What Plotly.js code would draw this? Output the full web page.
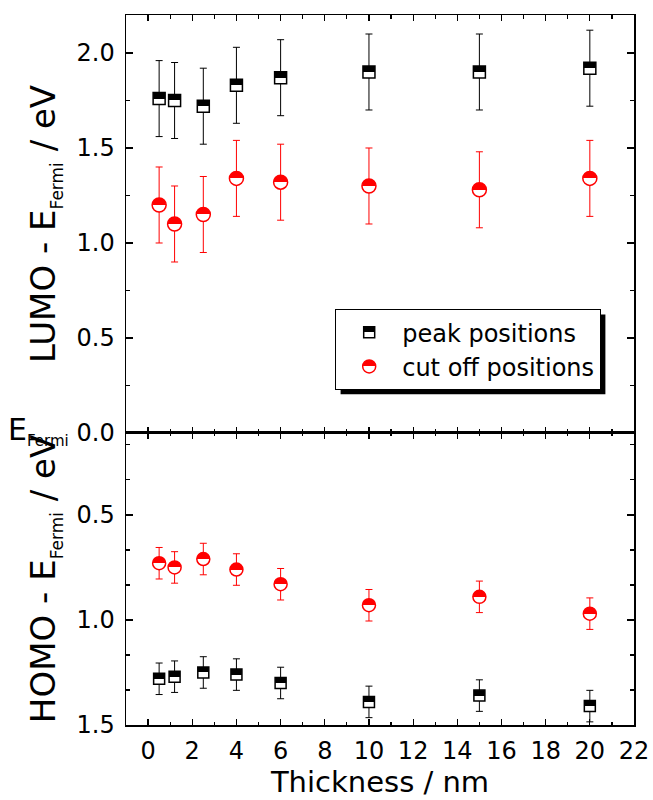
<!DOCTYPE html>
<html><head><meta charset="utf-8">
<script src="https://cdn.plot.ly/plotly-3.0.1.min.js"></script>
<style>body{margin:0;background:#fff}#chart{width:653px;height:800px}</style>
</head><body><div id="chart"></div>
<script>
// ---- data ----
var thickness = [0.5, 1.2, 2.5, 4, 6, 10, 15, 20];
var lumoPeak    = [1.76, 1.75, 1.72, 1.83, 1.87, 1.90, 1.90, 1.92];
var lumoPeakErr = [0.2, 0.2, 0.2, 0.2, 0.2, 0.2, 0.2, 0.2];
var lumoCut     = [1.20, 1.10, 1.15, 1.34, 1.32, 1.30, 1.28, 1.34];
var lumoCutErr  = [0.2, 0.2, 0.2, 0.2, 0.2, 0.2, 0.2, 0.2];
var homoCut     = [0.73, 0.75, 0.71, 0.76, 0.83, 0.93, 0.89, 0.97];
var homoCutErr  = [0.075, 0.075, 0.075, 0.075, 0.075, 0.075, 0.075, 0.075];
var homoPeak    = [1.28, 1.27, 1.25, 1.26, 1.30, 1.39, 1.36, 1.41];
var homoPeakErr = [0.075, 0.075, 0.075, 0.075, 0.075, 0.075, 0.075, 0.075];
var seriesNames = ['peak positions', 'cut off positions'];
var xTitle = 'Thickness / nm';
var yTopTitle = 'LUMO - E<sub><span style="font-size:17px">Fermi</span></sub> / eV';
var yBotTitle = 'HOMO - E<sub><span style="font-size:17px">Fermi</span></sub> / eV';
var fermiLabel = 'E<sub><span style="font-size:15px">Fermi</span></sub>';

var FONT = 'DejaVu Sans, sans-serif';

function squareTrace(y, err, xa, ya, size, legend) {
  return {
    type: 'scatter', mode: 'markers', x: thickness, y: y, xaxis: xa, yaxis: ya,
    name: seriesNames[0], showlegend: legend, legendrank: 1,
    marker: {symbol: 'square', size: size, color: 'black',
             gradient: {type: 'vertical', color: 'white'},
             line: {color: 'black', width: 1.5}},
    error_y: {type: 'data', array: err, visible: true, color: 'black', thickness: 1, width: 3.5}
  };
}
function circleTrace(y, err, xa, ya, size, legend) {
  return {
    type: 'scatter', mode: 'markers', x: thickness, y: y, xaxis: xa, yaxis: ya,
    name: seriesNames[1], showlegend: legend, legendrank: 2,
    marker: {symbol: 'circle', size: size, color: 'red',
             gradient: {type: 'vertical', color: 'white'},
             line: {color: 'red', width: 1.5}},
    error_y: {type: 'data', array: err, visible: true, color: 'red', thickness: 1, width: 3.5}
  };
}

var traces = [
  squareTrace(homoPeak, homoPeakErr, 'x', 'y', 11, true),
  circleTrace(homoCut, homoCutErr, 'x', 'y', 13, true),
  squareTrace(lumoPeak, lumoPeakErr, 'x2', 'y2', 12, false),
  circleTrace(lumoCut, lumoCutErr, 'x2', 'y2', 14, false)
];

var axLine = {showline: true, linecolor: 'black', linewidth: 1.5, mirror: 'ticks',
  showgrid: false, zeroline: false, ticks: 'inside', tickcolor: 'black', tickwidth: 1.2};

var xCommon = Object.assign({}, axLine, {
  range: [-1, 22], tick0: 0, dtick: 2, ticklen: 6,
  minor: {dtick: 1, ticks: 'inside', ticklen: 3.5, tickwidth: 1.2, tickcolor: 'black'}
});

var layout = {
  width: 653, height: 800,
  margin: {l: 126, r: 19, t: 15, b: 75},
  paper_bgcolor: 'white', plot_bgcolor: 'white',
  font: {family: FONT, color: 'black', size: 24},
  showlegend: true,
  legend: {x: 0.4114, y: 0.586, xanchor: 'left', yanchor: 'top',
           bgcolor: 'white', bordercolor: 'black', borderwidth: 1.2,
           font: {size: 24, family: FONT}, itemwidth: 56, tracegroupgap: 0},
  xaxis: Object.assign({}, xCommon, {anchor: 'y', domain: [0, 1],
    ticklabelstandoff: 4,
    title: {text: xTitle, font: {size: 29}, standoff: 6}}),
  xaxis2: Object.assign({}, xCommon, {anchor: 'y2', domain: [0, 1], matches: 'x',
    showticklabels: false}),
  yaxis: Object.assign({}, axLine, {domain: [0, 0.4113], range: [1.5, 0.11],
    tick0: 0, dtick: 0.5, ticklen: 7, tickformat: '.1f', ticklabelstandoff: 5,
    minor: {tick0: 0, dtick: 0.5 / 3, ticks: 'inside', ticklen: 4, tickwidth: 1.2, tickcolor: 'black'},
    title: {text: yBotTitle, font: {size: 34}, standoff: 10}}),
  yaxis2: Object.assign({}, axLine, {domain: [0.4113, 1], range: [0, 2.2],
    tick0: 0, dtick: 0.5, ticklen: 7, tickformat: '.1f', ticklabelstandoff: 5,
    minor: {dtick: 0.25, ticks: 'inside', ticklen: 4, tickwidth: 1.2, tickcolor: 'black'},
    title: {text: yTopTitle, font: {size: 34}, standoff: 10}}),
  annotations: [{
    text: fermiLabel, xref: 'paper', yref: 'y2', x: -0.108, y: 0,
    xanchor: 'right', yanchor: 'middle', showarrow: false, yshift: 2,
    font: {size: 30, family: FONT}
  }]
};

function sharpen(gd) {
  gd.querySelectorAll('linearGradient').forEach(function (g) {
    var stops = g.querySelectorAll('stop');
    if (stops.length < 2) return;
    var cols = Array.prototype.map.call(stops, function (s) { return s.getAttribute('stop-color'); });
    var ops = Array.prototype.map.call(stops, function (s) { return s.getAttribute('stop-opacity') || 1; });
    var wi = cols.findIndex(function (c) { return /255,\s*255,\s*255/.test(c) || /^#fff/i.test(c) || c === 'white'; });
    if (wi < 0) return;
    var di = wi === 0 ? cols.length - 1 : 0;
    var white = cols[wi], dark = cols[di];
    var y1 = parseFloat(g.getAttribute('y1') || '0');
    var y2 = parseFloat(g.getAttribute('y2') || '0');
    var firstTop = y1 <= y2;
    var a = firstTop ? dark : white, b = firstTop ? white : dark;
    while (g.firstChild) g.removeChild(g.firstChild);
    [[0, a], [50, a], [50, b], [100, b]].forEach(function (s) {
      var st = document.createElementNS('http://www.w3.org/2000/svg', 'stop');
      st.setAttribute('offset', s[0] + '%');
      st.setAttribute('stop-color', s[1]);
      st.setAttribute('stop-opacity', 1);
      g.appendChild(st);
    });
  });
}

var gd = document.getElementById('chart');
Plotly.newPlot(gd, traces, layout, {staticPlot: true, displayModeBar: false}).then(function () {
  var bg = gd.querySelector('.legend .bg');
  var r = bg.getBoundingClientRect();
  var gr = gd.getBoundingClientRect();
  var sz = gd._fullLayout._size;
  var off = 5;
  function px2x(p) { return (p - gr.left - sz.l) / sz.w; }
  function px2y(p) { return 1 - (p - gr.top - sz.t) / sz.h; }
  return Plotly.relayout(gd, {shapes: [{
    type: 'rect', xref: 'paper', yref: 'paper', layer: 'above',
    x0: px2x(r.left + off), x1: px2x(r.right + off),
    y0: px2y(r.bottom + off), y1: px2y(r.top + off),
    fillcolor: 'black', line: {width: 0}
  }]});
}).then(function () { sharpen(gd); });
</script>
</body></html>
